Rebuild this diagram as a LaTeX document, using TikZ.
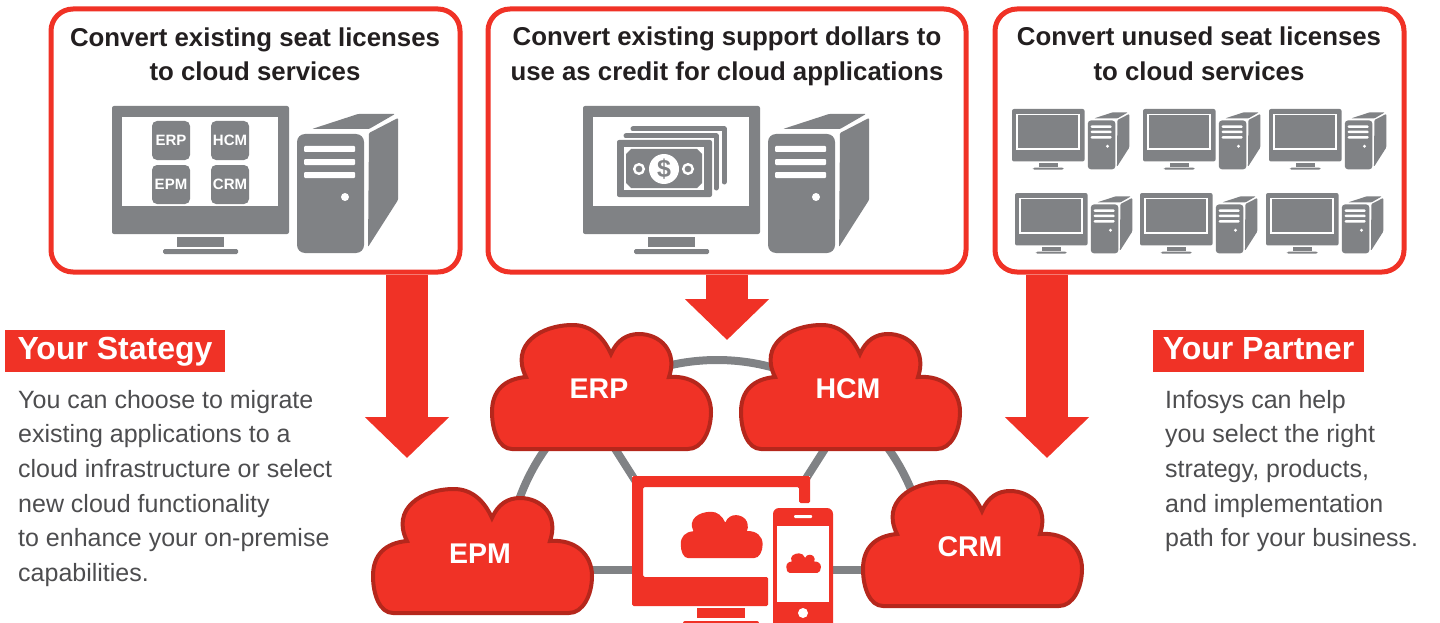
\documentclass[tikz,border=0pt]{standalone}
\usepackage{fontspec}
\setmainfont{Liberation Sans}
\usetikzlibrary{arrows.meta}
\definecolor{InfoRed}{HTML}{F03226}
\definecolor{CloudEdge}{HTML}{B5271C}
\definecolor{IconGray}{HTML}{808285}
\definecolor{BodyGray}{HTML}{4D4D4F}
\definecolor{TitleInk}{HTML}{231F20}
\tikzset{
  panel/.style={draw=InfoRed, line width=5pt, rounded corners=22pt, fill=white, inner sep=0pt, minimum height=263},
  paneltitle/.style={font=\fontsize{25.8}{34.5}\selectfont\bfseries, text=TitleInk, align=center},
  bigarrow/.style={line width=42pt, draw=InfoRed, -{Triangle[width=82pt,length=41pt]}},
  tagbox/.style={fill=InfoRed, text=white, font=\fontsize{32}{36}\selectfont\bfseries, minimum height=42, inner sep=0pt, text height=23, text depth=7},
  bodytext/.style={text=BodyGray, font=\fontsize{25}{34.6}\selectfont, align=left, anchor=north west, inner sep=0pt},
  chip/.style={fill=IconGray, rounded corners=5pt, minimum width=38, minimum height=39, inner sep=0pt, text=white, font=\fontsize{15}{15}\selectfont\bfseries},
  hubline/.style={draw=IconGray, line width=8pt},
  cloudlabel/.style={text=white, font=\fontsize{28.5}{30}\selectfont\bfseries, inner sep=0pt},
  % one computer: monitor and tower, y runs downwards
  pics/desktop/.style={code={
    \fill[IconGray, rounded corners=2pt] (0,0) rectangle (177,128);
    \fill[white] (10,11) rectangle (166,100);
    \fill[IconGray] (65,131) rectangle (112,141);
    \fill[IconGray, rounded corners=1.5pt] (51,143) rectangle (126,148);
    \fill[IconGray, rounded corners=#1] (185,28) rectangle (252,147);
    \fill[IconGray, rounded corners=1pt] (200,23) -- (246,8) -- (283,8) -- (257,23) -- cycle;
    \fill[IconGray, rounded corners=1pt] (257,27) -- (286,12) -- (286,94) -- (256,141) -- cycle;
    \foreach \y in {43,56,69} {
      \fill[white, rounded corners=1pt] (192,\y-3) rectangle (243,\y+3);
    }
    \fill[white] (233,91) circle[radius=4];
  }},
  pics/screeninset/.style={code={
    \fill[IconGray] (14,15) rectangle (162,96);
  }},
  pics/cloudshape/.style={code={
    \path[pic actions] (22,126) .. controls (9,126) and (2,108) .. (2,89)
      .. controls (2,68) and (14,56) .. (36,54)
      .. controls (20,22) and (50,2) .. (83,2)
      .. controls (100,2) and (113,13) .. (121,31)
      .. controls (127,17) and (137,11) .. (149,11)
      .. controls (170,11) and (188,28) .. (179,54)
      .. controls (205,52) and (221,68) .. (221,89)
      .. controls (221,108) and (212,126) .. (198,126) -- cycle;
  }}
}
\begin{document}
\begin{tikzpicture}[x=1pt, y=-1pt]
\useasboundingbox (0,0) rectangle (1440,623);

% Panels
\node[panel, minimum width=409] (boxA) at (255.5,140.5) {};
\node[panel, minimum width=478] (boxB) at (727,140.5) {};
\node[panel, minimum width=409] (boxC) at (1199.5,140.5) {};
\node[paneltitle] (titleA) at (255,54.5) {Convert existing seat licenses\\to cloud services};
\node[paneltitle] (titleB) at (727,56.5) {Convert existing support dollars to\\use as credit for cloud applications};
\node[paneltitle] (titleC) at (1199,54) {Convert unused seat licenses\\to cloud services};

% Left computer with four chips
\pic at (112,106) {desktop=8pt};
\node[chip] (chipERP) at (171,140.5) {ERP};
\node[chip] (chipHCM) at (230,140.5) {HCM};
\node[chip] (chipEPM) at (171,184.5) {EPM};
\node[chip] (chipCRM) at (230,184.5) {CRM};

% Middle computer with bank notes
\pic at (583,106) {desktop=8pt};
\draw[IconGray, line width=5pt, line cap=round, line join=round] (633,129) -- (724,129) -- (724,182);
\draw[IconGray, line width=5pt, line cap=round, line join=round] (626,136) -- (716,136) -- (716,188);
\fill[white] (614,138) rectangle (713.5,200);
\fill[IconGray, rounded corners=2pt] (617,140) rectangle (712,197);
\fill[white] (624,147) rectangle (704,190);
\fill[IconGray] (631,149) -- (697,149) -- (702,154) -- (702,183) -- (697,188) -- (631,188) -- (626,183) -- (626,154) -- cycle;
\node[circle, fill=white, minimum size=30, inner sep=0pt, text=IconGray, font=\fontsize{25}{25}\selectfont\bfseries] (dollar) at (664,169) {\$};
\foreach \cx in {639,688} {
  \draw[white, line width=2.4pt] (\cx,169) circle[radius=4.8];
}

% Right computers
\foreach \px/\py in {1012/109,1143/109,1269/109,1015/193,1140/193,1266/193} {
  \pic[scale=0.41] at (\px,\py) {desktop=3pt};
  \pic[scale=0.41] at (\px,\py) {screeninset};
}

% Arrows
\coordinate (tipA) at (407,458);
\coordinate (tipB) at (727,340);
\coordinate (tipC) at (1047,458);
\draw[bigarrow] (tipA |- boxA.south) -- (tipA);
\draw[bigarrow] (tipB |- boxB.south) -- (tipB);
\draw[bigarrow] (tipC |- boxC.south) -- (tipC);

% Side notes
\node[tagbox, minimum width=220] (tagL) at (115,351) {Your Stategy};
\node[tagbox, minimum width=211] (tagR) at (1258.5,351) {Your Partner};
\node[bodytext] (noteL) at (18,390) {You can choose to migrate\\existing applications to a\\cloud infrastructure or select\\new cloud functionality\\to enhance your on-premise\\capabilities.};
\node[bodytext] (noteR) at (1165,390) {Infosys can help\\you select the right\\strategy, products,\\and implementation\\path for your business.};

% Hub lines behind the clouds
\coordinate (ringW) at (507,570);
\coordinate (ringE) at (927,570);
\coordinate (hubW) at (500,570);
\coordinate (hubE) at (950,570);
\coordinate (spokeNW) at (612,444);
\coordinate (spokeSW) at (640,488);
\coordinate (spokeNE) at (828,444);
\coordinate (spokeSE) at (800,488);
\draw[hubline] (ringW) arc[start angle=180, end angle=360, radius=210];
\draw[hubline] (hubW) -- (hubE);
\draw[hubline] (spokeNW) -- (spokeSW);
\draw[hubline] (spokeNE) -- (spokeSE);

% Clouds
\foreach \px/\py in {490/323,739/323,371/487,861/480} {
  \pic[fill=InfoRed, draw=CloudEdge, line width=4pt] at (\px,\py) {cloudshape};
}
\node[cloudlabel] (cloudERP) at (599,389) {ERP};
\node[cloudlabel] (cloudHCM) at (848,389) {HCM};
\node[cloudlabel] (cloudEPM) at (480,554) {EPM};
\node[cloudlabel] (cloudCRM) at (970,547) {CRM};

% Screen and phone
\fill[white] (632,476) rectangle (810,606);
\fill[white] (768,503) rectangle (833,623);
\fill[InfoRed, rounded corners=1.5pt] (632,476) -- (810,476) -- (810,503) -- (799,503) -- (799,487) -- (643,487) -- (643,577) -- (768,577) -- (768,606) -- (632,606) -- cycle;
\fill[InfoRed] (697,608) rectangle (745,618);
\fill[InfoRed, rounded corners=2pt] (683,621) rectangle (759,630);
\pic[scale=0.374, fill=InfoRed] at (680,511) {cloudshape};
\fill[InfoRed, rounded corners=6pt] (773,508) rectangle (833,635);
\fill[white] (777,526) rectangle (829,602);
\fill[white, rounded corners=1pt] (794,515) rectangle (812,518);
\fill[white] (803,613) circle[radius=5];
\pic[scale=0.158, fill=InfoRed] at (786,553) {cloudshape};
\end{tikzpicture}
\end{document}
